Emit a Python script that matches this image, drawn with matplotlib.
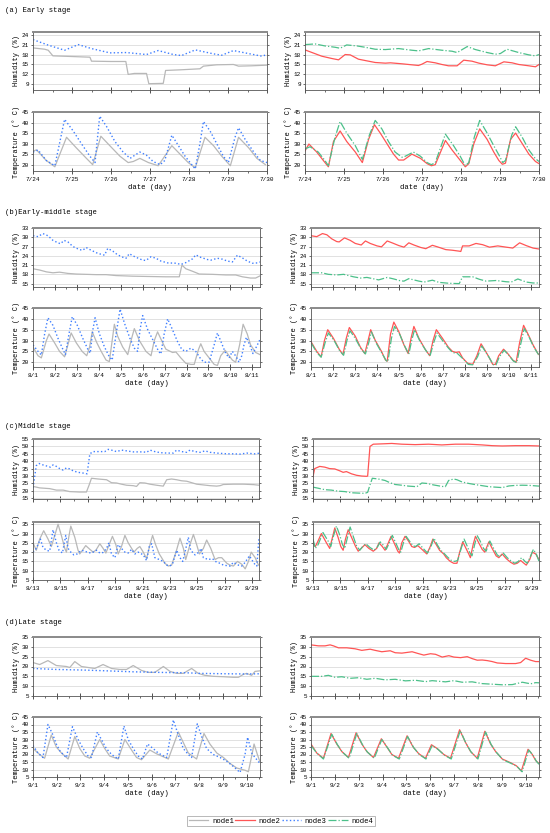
import matplotlib
matplotlib.use('Agg')
import matplotlib.pyplot as plt
from matplotlib.ticker import AutoMinorLocator

plt.rcParams['font.family'] = ['Liberation Mono', 'DejaVu Sans Mono']

# colours / styles per node
c1, c2, c3, c4 = '#b8b8b8', '#ff5555', '#3f7fff', '#4cc08a'

# ---------------- (a) Early stage : 7/24 - 7/30 ----------------
a_days = ['7/24', '7/25', '7/26', '7/27', '7/28', '7/29', '7/30']
a_h1 = [(0, 20), (0.3, 19.6), (0.39, 19.3), (0.51, 17.6), (1.0, 17.4), (1.46, 17.2), (1.50, 16.0),
        (2.0, 15.9), (2.38, 15.9), (2.44, 12.0), (2.6, 12.3), (2.91, 12.3), (2.97, 9.2), (3.34, 9.3),
        (3.40, 13.2), (3.8, 13.4), (4.28, 13.7), (4.37, 14.5), (4.71, 14.9), (5.14, 15.0), (5.27, 14.5),
        (5.6, 14.6), (6.0, 14.8)]
a_h3 = [(0, 22.5), (0.4, 20.8), (0.81, 19.3), (1.16, 21.0), (1.5, 19.8), (1.97, 18.5), (2.40, 18.6),
        (2.91, 18.0), (3.21, 19.2), (3.60, 18.0), (3.81, 17.7), (4.16, 19.4), (4.63, 18.2), (4.84, 17.8),
        (5.14, 19.2), (5.48, 18.4), (5.87, 17.5), (6.0, 18.0)]
a_t3 = [(0, 26), (0.13, 27), (0.34, 22), (0.56, 19.5), (0.81, 41.5), (1.03, 36), (1.24, 30), (1.46, 24),
        (1.59, 21), (1.71, 43), (1.89, 38), (2.10, 31), (2.31, 26), (2.49, 23), (2.57, 24), (2.74, 26),
        (2.91, 24.5), (3.08, 21.5), (3.26, 20), (3.38, 22), (3.56, 34), (3.73, 29), (3.90, 24), (4.07, 20),
        (4.16, 18), (4.28, 30), (4.37, 40.5), (4.54, 36), (4.71, 30), (4.88, 24), (5.01, 21), (5.18, 33),
        (5.27, 37.5), (5.44, 32), (5.66, 26), (5.83, 22), (6.0, 21)]
a_t1 = [(0, 26.5), (0.09, 27), (0.34, 22), (0.56, 19), (0.86, 33), (1.11, 28), (1.37, 23), (1.53, 20),
        (1.74, 33.5), (1.97, 29), (2.23, 24), (2.44, 21), (2.57, 21.5), (2.74, 23), (2.96, 21), (3.21, 19.5),
        (3.56, 29), (3.77, 25), (3.98, 21), (4.16, 18.5), (4.41, 33), (4.63, 29), (4.84, 24), (5.06, 19.5),
        (5.27, 33), (5.53, 28), (5.74, 23), (5.96, 20)]
a_h2 = [(0, 19.4), (0.43, 17.5), (0.69, 16.8), (0.86, 16.4), (1.03, 18.0), (1.16, 17.9), (1.37, 16.6),
        (1.54, 16.2), (1.80, 15.6), (2.06, 15.4), (2.19, 15.5), (2.49, 15.2), (2.74, 14.9), (2.91, 14.7),
        (3.0, 15.1), (3.13, 15.9), (3.34, 15.5), (3.51, 15.0), (3.68, 14.6), (3.90, 14.6), (4.07, 16.3),
        (4.28, 16.0), (4.46, 15.4), (4.67, 14.9), (4.88, 14.6), (5.10, 15.8), (5.31, 15.5), (5.48, 15.0),
        (5.74, 14.6), (5.91, 14.3), (6.0, 15.0)]
a_h4 = [(0, 21), (0.26, 21.2), (0.51, 20.6), (0.77, 20.2), (0.90, 19.9), (1.07, 20.9), (1.33, 20.6),
        (1.54, 20.2), (1.80, 19.6), (2.06, 19.5), (2.40, 19.8), (2.74, 19.3), (2.91, 19.1), (3.17, 19.8),
        (3.51, 19.3), (3.77, 19.0), (3.90, 18.6), (4.16, 20.4), (4.37, 19.5), (4.67, 18.6), (4.88, 18.1),
        (5.01, 18.3), (5.18, 19.6), (5.48, 18.6), (5.74, 17.9), (5.91, 17.6), (6.0, 18.0)]
a_t2 = [(0, 26.5), (0.10, 29.8), (0.30, 26), (0.47, 22), (0.60, 19), (0.73, 31), (0.90, 36), (1.07, 31),
        (1.29, 26), (1.47, 21), (1.63, 32), (1.78, 39), (1.93, 35), (2.10, 30), (2.27, 25), (2.40, 22.2),
        (2.53, 22.2), (2.74, 25), (2.96, 23), (3.13, 20.5), (3.24, 19.5), (3.34, 20), (3.60, 31.5),
        (3.77, 27), (3.94, 23), (4.11, 19), (4.20, 20.5), (4.33, 30), (4.48, 37), (4.67, 32), (4.84, 26),
        (4.97, 22), (5.06, 20.2), (5.14, 20.7), (5.27, 32), (5.40, 35), (5.57, 30), (5.74, 25), (5.91, 21.5),
        (6.0, 20.5)]
a_t4 = [(0, 27.5), (0.13, 28.5), (0.34, 26), (0.51, 22), (0.60, 19.5), (0.77, 33), (0.90, 40.5), (1.07, 35),
        (1.29, 29), (1.47, 22.5), (1.65, 34), (1.80, 41), (1.97, 37), (2.14, 31), (2.31, 26), (2.49, 23.5),
        (2.57, 24), (2.78, 26), (2.96, 24), (3.13, 21), (3.24, 20), (3.34, 21), (3.60, 34.5), (3.81, 29),
        (3.98, 24), (4.11, 19.5), (4.20, 21), (4.34, 33), (4.48, 41), (4.67, 35), (4.84, 29), (4.99, 24),
        (5.07, 21), (5.14, 22), (5.30, 34), (5.40, 38), (5.57, 33), (5.74, 27), (5.90, 23), (6.0, 21.5)]

# ---------------- (b) Early-middle stage : 8/1 - 8/11 ----------------
b_days = ['8/1', '8/2', '8/3', '8/4', '8/5', '8/6', '8/7', '8/8', '8/9', '8/10', '8/11']
b_h3 = [(0, 30.5), (0.23, 30.2), (0.45, 31.2), (0.68, 30.5), (0.91, 29.0), (1.14, 28.2), (1.26, 27.9),
        (1.41, 29.0), (1.59, 28.5), (1.82, 27.0), (2.12, 26.0), (2.27, 25.8), (2.42, 26.7), (2.65, 25.8),
        (2.95, 24.8), (3.26, 24.2), (3.41, 26.4), (3.64, 25.5), (3.86, 24.3), (4.17, 23.3), (4.24, 23.2),
        (4.39, 24.7), (4.55, 24.0), (4.77, 23.3), (5.0, 22.6), (5.15, 22.5), (5.38, 23.7), (5.61, 23.2),
        (5.83, 22.3), (6.14, 21.7), (6.52, 21.6), (6.74, 21.2), (6.97, 21.8), (7.27, 23.0), (7.42, 24.3),
        (7.65, 23.5), (7.95, 22.8), (8.11, 22.6), (8.41, 23.2), (8.64, 22.9), (8.86, 22.3), (9.09, 22.0),
        (9.32, 24.2), (9.55, 23.3), (9.77, 22.3), (10.0, 21.6), (10.23, 21.7), (10.35, 22.0)]
b_h1 = [(0, 19.8), (0.30, 19.4), (0.61, 18.8), (0.91, 18.5), (1.21, 18.7), (1.59, 18.3), (1.97, 18.1),
        (2.42, 18.0), (2.88, 17.9), (3.33, 17.9), (3.79, 17.6), (4.55, 17.4), (5.30, 17.3), (6.06, 17.2),
        (6.67, 17.2), (6.79, 21.0), (6.97, 19.8), (7.27, 19.0), (7.58, 18.1), (8.18, 18.0), (8.79, 17.8),
        (9.24, 17.8), (9.55, 17.2), (9.92, 16.8), (10.15, 16.8), (10.35, 17.5)]
b_t3 = [(0, 28), (0.23, 25), (0.38, 23.3), (0.53, 33), (0.68, 40.5), (0.91, 37), (1.14, 31), (1.36, 26),
        (1.48, 23.5), (1.64, 33), (1.79, 41), (2.02, 37), (2.27, 31), (2.50, 26), (2.61, 24.2), (2.73, 35),
        (2.83, 40.5), (3.03, 33), (3.26, 27), (3.48, 22.5), (3.61, 21), (3.82, 35), (3.97, 44.5), (4.17, 38),
        (4.42, 31), (4.62, 26.5), (4.77, 25), (4.88, 35), (5.0, 41.5), (5.23, 35), (5.53, 29), (5.73, 25),
        (5.83, 23.8), (5.98, 33), (6.14, 40), (6.36, 35), (6.59, 29.5), (6.79, 25.8), (6.97, 25),
        (7.20, 26.5), (7.42, 25), (7.65, 21.5), (7.80, 20), (8.03, 20), (8.26, 28), (8.41, 33.5),
        (8.61, 28.5), (8.79, 24), (8.94, 22), (9.09, 25), (9.27, 22.5), (9.39, 20), (9.52, 23), (9.62, 28),
        (9.73, 31.5), (9.92, 27), (10.03, 24), (10.23, 28), (10.35, 30.5)]
b_t1 = [(0, 27), (0.23, 23), (0.38, 22), (0.61, 30), (0.73, 33), (0.98, 29), (1.21, 25), (1.44, 22.5),
        (1.59, 28), (1.74, 33.5), (1.97, 29), (2.24, 25), (2.45, 23), (2.58, 27), (2.70, 34), (2.91, 29),
        (3.11, 25), (3.33, 21), (3.48, 20.3), (3.61, 30), (3.71, 37.5), (3.86, 32), (4.09, 27), (4.32, 23.5),
        (4.47, 30), (4.62, 35.5), (4.85, 30), (5.15, 25), (5.38, 23), (5.53, 30), (5.68, 34), (5.91, 29),
        (6.06, 26), (6.36, 24.5), (6.52, 24.7), (6.74, 22), (6.97, 19.5), (7.20, 19), (7.35, 19), (7.55, 26),
        (7.65, 28.5), (7.80, 25), (8.03, 22), (8.26, 19), (8.41, 18.5), (8.56, 23), (8.76, 25.5), (8.94, 23),
        (9.09, 21), (9.24, 20), (9.42, 28), (9.58, 37.5), (9.77, 33), (9.92, 28), (10.15, 24.5), (10.35, 23.5)]
b_h2 = [(0, 30.5), (0.26, 30.2), (0.52, 31.2), (0.72, 30.8), (0.94, 29.5), (1.17, 28.6), (1.28, 28.5),
        (1.52, 29.8), (1.78, 29.0), (2.01, 28.0), (2.28, 27.5), (2.47, 28.8), (2.69, 28.0), (3.0, 27.2),
        (3.20, 26.9), (3.46, 28.8), (3.68, 28.2), (3.99, 27.3), (4.22, 26.8), (4.44, 28.2), (4.67, 27.5),
        (4.98, 26.7), (5.21, 26.3), (5.51, 27.4), (5.74, 26.9), (6.12, 26.0), (6.42, 25.8), (6.73, 25.5),
        (6.80, 25.4), (6.88, 27.2), (7.18, 27.2), (7.49, 28.0), (7.79, 27.6), (8.10, 26.8), (8.48, 27.2),
        (8.86, 26.8), (9.16, 26.5), (9.47, 28.2), (9.77, 27.3), (10.08, 26.5), (10.35, 26.2)]
b_h4 = [(0, 18.5), (0.49, 18.5), (0.79, 18.0), (1.17, 17.8), (1.48, 18.0), (1.93, 17.2), (2.24, 16.8),
        (2.54, 17.0), (3.07, 16.2), (3.46, 17.0), (3.76, 16.5), (4.06, 15.9), (4.22, 15.8), (4.44, 16.6),
        (4.90, 15.8), (5.13, 15.5), (5.51, 16.1), (5.81, 15.4), (6.27, 15.1), (6.73, 15.0), (6.88, 17.2),
        (7.34, 17.2), (7.64, 16.4), (7.95, 15.8), (8.40, 16.0), (8.86, 15.6), (9.09, 15.5), (9.39, 16.5),
        (9.77, 15.5), (10.08, 15.2), (10.35, 15.2)]
b_t2 = [(0, 29.5), (0.26, 25), (0.46, 22.5), (0.61, 30), (0.76, 35), (1.02, 31), (1.28, 26), (1.45, 23.5),
        (1.60, 31), (1.74, 36), (2.01, 32), (2.24, 27), (2.44, 24), (2.59, 30), (2.71, 35), (2.92, 30),
        (3.20, 25), (3.38, 21), (3.46, 20.5), (3.61, 33), (3.76, 38.5), (3.99, 34), (4.22, 28), (4.41, 24),
        (4.54, 31), (4.67, 36.5), (4.90, 31), (5.18, 26), (5.39, 23), (5.54, 30), (5.69, 35), (5.97, 31),
        (6.23, 27), (6.42, 25), (6.58, 24.5), (6.73, 24.8), (6.88, 22), (7.11, 19.5), (7.34, 19), (7.53, 23),
        (7.72, 28.5), (7.87, 26), (8.07, 22.5), (8.25, 19), (8.37, 19), (8.52, 23), (8.74, 26), (8.93, 24),
        (9.16, 21), (9.31, 20), (9.47, 29), (9.65, 37), (9.85, 33), (10.08, 28), (10.30, 24), (10.35, 23.5)]
b_t4 = [(0, 29), (0.26, 24.5), (0.46, 22.3), (0.64, 29), (0.79, 33.5), (1.05, 30), (1.29, 25.5), (1.48, 23.2),
        (1.63, 30), (1.77, 34.5), (2.01, 31), (2.25, 26.5), (2.47, 23.8), (2.62, 29), (2.74, 34), (2.95, 29),
        (3.20, 24.5), (3.41, 20.8), (3.49, 20.2), (3.65, 31), (3.79, 36.5), (4.02, 33), (4.25, 27.5),
        (4.44, 23.7), (4.57, 30), (4.70, 35), (4.93, 30), (5.21, 25.5), (5.40, 22.8), (5.57, 29), (5.72, 33.5),
        (5.97, 30), (6.24, 26.5), (6.42, 24.5), (6.65, 24), (6.91, 21.5), (7.14, 19), (7.34, 18.8),
        (7.56, 22.5), (7.75, 27.5), (7.91, 25), (8.10, 22), (8.28, 18.8), (8.40, 18.8), (8.55, 22.5),
        (8.77, 25.5), (8.96, 23.5), (9.19, 20.5), (9.34, 19.8), (9.51, 28), (9.68, 35.5), (9.88, 32),
        (10.11, 27), (10.33, 23.5)]

# ---------------- (c) Middle stage : 8/13 - 8/29 ----------------
c_days = ['8/13', '8/15', '8/17', '8/19', '8/21', '8/23', '8/25', '8/27', '8/29']
c_h3 = [(0, 22), (0.24, 37), (0.44, 38.5), (0.73, 37.5), (1.10, 36.5), (1.27, 36.0), (1.46, 37.5),
        (1.71, 36.5), (1.95, 35.0), (2.20, 34.0), (2.44, 35.5), (2.68, 34.8), (2.93, 33.5), (3.29, 32.5),
        (3.66, 32.0), (3.95, 31.5), (4.15, 45.0), (4.39, 46.5), (4.88, 46.5), (5.24, 46.5), (5.49, 48.0),
        (5.73, 47.5), (6.10, 46.5), (6.46, 47.5), (6.83, 47.0), (7.32, 46.3), (8.05, 46.3), (8.29, 46.0),
        (8.54, 47.5), (8.90, 46.5), (9.27, 45.8), (9.76, 45.5), (10.24, 45.5), (10.49, 47.5), (10.85, 46.5),
        (11.22, 46.0), (11.46, 47.5), (11.83, 46.5), (12.20, 46.0), (12.56, 47.0), (12.93, 46.0),
        (13.41, 45.5), (14.15, 45.0), (14.63, 45.0), (15.12, 44.8), (15.61, 45.5), (16.10, 45.0),
        (16.34, 45.0), (16.5, 45.5)]
c_h1 = [(0, 23), (0.49, 22), (1.22, 21.5), (1.71, 20.5), (2.20, 20.5), (2.68, 19.5), (3.41, 19.2),
        (3.90, 19.2), (4.10, 24.0), (4.27, 28.5), (4.76, 28.0), (5.37, 27.5), (5.73, 25.5), (6.10, 25.3),
        (6.46, 24.5), (6.83, 23.8), (7.32, 23.5), (7.56, 23.0), (7.80, 25.5), (8.17, 25.3), (8.54, 24.5),
        (9.02, 23.8), (9.51, 23.2), (9.76, 27.5), (10.12, 28.0), (10.49, 27.5), (10.85, 26.8), (11.22, 26.5),
        (11.59, 25.5), (11.95, 24.5), (12.44, 24.0), (12.93, 23.5), (13.41, 23.2), (13.66, 23.5),
        (13.90, 24.3), (14.63, 24.5), (15.37, 24.5), (16.10, 24.2), (16.5, 23.8)]
c_t1 = [(0, 25), (0.24, 21), (0.49, 27), (0.78, 31.5), (1.10, 27), (1.34, 23), (1.59, 29), (1.83, 35),
        (2.07, 29), (2.32, 22), (2.44, 20), (2.61, 28), (2.76, 34), (3.05, 28), (3.29, 21), (3.41, 19),
        (3.61, 21), (3.85, 23.5), (4.15, 21.5), (4.39, 20), (4.59, 21), (4.88, 24.5), (5.12, 22), (5.32, 19.5),
        (5.56, 24), (5.80, 28.5), (6.05, 24), (6.22, 19), (6.46, 23), (6.71, 29), (6.95, 25), (7.20, 22),
        (7.37, 20), (7.61, 22), (7.80, 23), (8.05, 20), (8.29, 16.5), (8.54, 24), (8.73, 29), (8.95, 24),
        (9.22, 19), (9.39, 17), (9.63, 14), (9.88, 12.5), (10.12, 13), (10.44, 20), (10.73, 27.5), (10.98, 22),
        (11.15, 16), (11.46, 24), (11.71, 29.5), (11.95, 24), (12.15, 19), (12.44, 22), (12.68, 26.5),
        (12.98, 22), (13.29, 16), (13.54, 17), (13.78, 17), (14.15, 14), (14.39, 13), (14.63, 12.5),
        (14.93, 15), (15.24, 13.5), (15.49, 11), (15.73, 15), (15.93, 20), (16.22, 17), (16.46, 13), (16.5, 13)]
c_t3 = [(0, 20), (0.24, 22), (0.54, 27), (0.73, 22.5), (0.98, 21), (1.22, 20.5), (1.46, 32), (1.71, 25),
        (1.90, 21), (2.15, 19.5), (2.39, 29), (2.56, 22), (2.76, 20), (2.98, 18.5), (3.22, 19), (3.54, 21),
        (3.78, 20.5), (4.02, 19.8), (4.27, 19.5), (4.63, 21), (4.88, 19.5), (5.12, 19.8), (5.37, 22),
        (5.54, 25), (5.73, 19), (5.98, 17), (6.22, 24), (6.46, 22), (6.71, 20), (6.95, 19.5), (7.20, 21.5),
        (7.44, 19), (7.68, 20), (7.93, 19), (8.05, 18.5), (8.29, 15.5), (8.49, 23), (8.66, 24.5), (8.90, 17),
        (9.22, 16), (9.51, 15), (9.76, 13), (10.0, 12.5), (10.20, 14), (10.49, 21), (10.73, 17), (10.93, 15),
        (11.10, 20), (11.34, 28), (11.51, 21), (11.83, 18.5), (12.12, 20), (12.27, 22), (12.44, 17),
        (12.80, 16), (13.10, 16.5), (13.41, 14.5), (13.66, 14), (13.90, 13), (14.39, 12.5), (14.63, 14.5),
        (15.0, 13), (15.24, 12.5), (15.49, 14.5), (15.80, 18), (16.05, 15), (16.24, 13), (16.34, 12.5),
        (16.49, 27)]
c_h2 = [(0, 29.5), (0.12, 35.0), (0.49, 36.5), (0.86, 36.0), (1.22, 35.0), (1.59, 34.8), (1.96, 33.5),
        (2.20, 32.5), (2.44, 33.0), (2.81, 31.5), (3.18, 30.5), (3.55, 30.0), (3.91, 29.8), (3.99, 30.0),
        (4.16, 50.0), (4.40, 51.5), (5.26, 51.8), (5.75, 52.0), (6.48, 51.5), (7.46, 51.2), (8.44, 51.5),
        (9.41, 51.0), (10.39, 51.5), (11.37, 51.5), (12.35, 51.0), (13.08, 50.5), (13.81, 50.3),
        (14.79, 50.5), (15.77, 50.5), (16.5, 50.3)]
c_h4 = [(0, 22.5), (0.37, 21.8), (0.86, 20.8), (1.34, 20.5), (1.83, 19.8), (2.32, 19.5), (2.81, 18.7),
        (3.30, 18.5), (3.79, 18.3), (3.99, 19.0), (4.16, 24.0), (4.33, 28.5), (4.77, 28.0), (5.26, 27.0),
        (5.62, 25.5), (5.99, 24.3), (6.48, 23.8), (6.97, 23.2), (7.58, 22.8), (7.95, 25.3), (8.31, 25.0),
        (8.80, 24.0), (9.41, 23.0), (9.66, 22.8), (9.90, 27.0), (10.27, 28.0), (10.51, 27.5), (10.88, 26.0),
        (11.37, 25.0), (11.86, 24.2), (12.35, 23.5), (12.84, 22.8), (13.33, 22.5), (13.81, 22.2),
        (14.30, 23.3), (14.79, 23.7), (15.28, 23.8), (15.77, 23.7), (16.5, 23.2)]
c_t2 = [(0, 25), (0.17, 23), (0.37, 26), (0.61, 30), (0.98, 25), (1.22, 22), (1.39, 27), (1.59, 33),
        (1.83, 28), (2.03, 23), (2.20, 21), (2.37, 27), (2.57, 32), (2.81, 28), (3.11, 23), (3.30, 20.5),
        (3.59, 22.5), (3.79, 24), (4.08, 22), (4.40, 20.5), (4.65, 22), (4.82, 25), (5.06, 23), (5.26, 21),
        (5.50, 25), (5.70, 28.5), (5.92, 25), (6.19, 20.5), (6.31, 19.5), (6.48, 25), (6.72, 28.5), (6.97, 26),
        (7.21, 23), (7.41, 22.5), (7.65, 23.5), (7.95, 21.5), (8.31, 19), (8.56, 23), (8.75, 27), (9.0, 24),
        (9.24, 21), (9.54, 19), (9.73, 17), (10.02, 15), (10.27, 14), (10.51, 14), (10.71, 20), (10.93, 25.5),
        (11.17, 22), (11.37, 19), (11.49, 17), (11.69, 24), (11.86, 28.5), (12.10, 25), (12.35, 21.5),
        (12.54, 20), (12.84, 25.5), (13.08, 22), (13.37, 18), (13.57, 17), (13.81, 19), (14.11, 16.5),
        (14.43, 14.5), (14.67, 13.5), (14.91, 14), (15.16, 15.5), (15.40, 14), (15.57, 13), (15.82, 16),
        (16.01, 20), (16.26, 19), (16.5, 16)]
c_t4 = [(0, 27), (0.17, 22), (0.37, 24), (0.73, 30.5), (1.10, 26), (1.30, 23), (1.47, 28), (1.71, 34),
        (1.96, 29), (2.15, 24), (2.32, 22), (2.52, 28), (2.71, 33.5), (2.96, 28), (3.20, 23), (3.42, 21),
        (3.62, 23), (3.86, 24.5), (4.16, 22.5), (4.47, 21), (4.72, 23), (4.91, 25.5), (5.16, 23.5),
        (5.35, 21.5), (5.57, 25), (5.79, 29), (6.04, 25), (6.28, 21), (6.41, 20), (6.60, 25), (6.80, 28.5),
        (7.04, 26), (7.29, 23.5), (7.48, 23), (7.75, 24.5), (8.04, 22), (8.36, 19.5), (8.61, 23), (8.83, 27.5),
        (9.07, 24), (9.32, 21), (9.61, 19), (9.80, 17.5), (10.10, 15.5), (10.34, 15), (10.56, 15.5),
        (10.78, 21), (11.03, 27), (11.27, 23), (11.46, 19.5), (11.61, 18), (11.80, 24), (11.98, 29),
        (12.20, 26), (12.45, 22), (12.64, 20.5), (12.91, 26), (13.15, 22.5), (13.45, 18.5), (13.64, 17.5),
        (13.89, 19.5), (14.18, 17), (14.50, 15), (14.74, 14), (14.99, 15), (15.23, 17), (15.48, 15),
        (15.65, 14), (15.89, 18), (16.09, 21.5), (16.33, 18.5), (16.5, 15)]

# ---------------- (d) Late stage : 9/1 - 9/10 ----------------
d_days = ['9/1', '9/2', '9/3', '9/4', '9/5', '9/6', '9/7', '9/8', '9/9', '9/10']
d_h1 = [(0, 22), (0.28, 21), (0.63, 23), (0.98, 20.5), (1.41, 20), (1.55, 19.5), (1.76, 22.5), (2.04, 20),
        (2.32, 19.5), (2.60, 19), (2.95, 21), (3.31, 19), (3.66, 18.5), (3.94, 18.5), (4.22, 20.5), (4.57, 18),
        (4.85, 17), (5.13, 17), (5.49, 20), (5.77, 17.5), (6.05, 16.5), (6.33, 16.5), (6.68, 19), (6.96, 16.5),
        (7.24, 15.5), (7.59, 15), (8.02, 14.8), (8.44, 14.5), (8.65, 14.5), (8.86, 16), (9.0, 16.5),
        (9.21, 15.5), (9.35, 17.5), (9.56, 17.8)]
d_h3 = [(0, 19), (0.98, 18.5), (2.11, 18.2), (3.09, 17.8), (4.22, 17.3), (5.34, 17.0), (6.47, 16.8),
        (7.03, 16.5), (8.16, 16.3), (9.0, 16.2), (9.56, 16.3)]
d_t3 = [(0, 26), (0.21, 21), (0.42, 18), (0.63, 40), (0.84, 33), (0.98, 27), (1.13, 22.5), (1.27, 20),
        (1.41, 18), (1.66, 38.5), (1.90, 30), (2.11, 24), (2.32, 19), (2.46, 18), (2.71, 35), (2.88, 30),
        (3.09, 24), (3.31, 20), (3.59, 17), (3.83, 39), (4.01, 30), (4.22, 24), (4.43, 19), (4.61, 17),
        (4.82, 27), (5.06, 24), (5.27, 21), (5.63, 18), (5.91, 43), (6.12, 33), (6.33, 24), (6.54, 20),
        (6.68, 18), (6.92, 40.5), (7.10, 32), (7.31, 24), (7.59, 20), (7.88, 18), (8.16, 15.5), (8.44, 12),
        (8.72, 8), (8.93, 20), (9.04, 31.5), (9.21, 21), (9.35, 18), (9.56, 14)]
d_t1 = [(0, 24), (0.28, 20), (0.49, 17.5), (0.77, 33), (0.98, 25), (1.20, 21), (1.48, 17), (1.76, 32),
        (1.97, 24), (2.18, 19), (2.39, 17.5), (2.81, 30), (3.02, 24), (3.23, 19), (3.59, 17), (3.87, 30),
        (4.15, 23), (4.36, 18), (4.57, 16.5), (4.92, 23), (5.20, 20.5), (5.70, 17), (6.12, 35), (6.33, 28),
        (6.54, 21), (6.89, 17), (7.20, 34), (7.45, 27), (7.74, 21), (8.02, 18), (8.30, 14), (8.58, 11),
        (8.93, 9.5), (9.07, 8.5), (9.21, 19), (9.31, 27), (9.45, 20), (9.56, 15)]
d_h2 = [(0, 31), (0.31, 30.5), (0.59, 30.5), (0.80, 31), (0.94, 30.5), (1.15, 29.5), (1.50, 29.5),
        (1.85, 29), (2.13, 28.2), (2.48, 28.8), (2.69, 28.2), (2.97, 27.5), (3.32, 28), (3.53, 27),
        (3.81, 26.8), (4.24, 27.5), (4.52, 26.5), (4.73, 25.8), (5.01, 26.5), (5.22, 26.2), (5.50, 24.8),
        (5.78, 25.5), (5.99, 24.8), (6.27, 24.5), (6.55, 25), (6.76, 24), (6.97, 23.2), (7.18, 23.3),
        (7.39, 23), (7.60, 22.5), (7.81, 21.8), (8.16, 21.5), (8.58, 21.5), (8.79, 22), (9.0, 24.2),
        (9.21, 23.2), (9.42, 22.5), (9.56, 22.5)]
d_h4 = [(0, 15), (0.45, 15), (0.73, 15.5), (1.01, 14.5), (1.29, 14.8), (1.64, 14), (1.99, 14.3), (2.34, 13.5),
        (2.69, 14), (3.11, 13.2), (3.53, 13.5), (3.96, 12.7), (4.38, 13), (4.80, 12.3), (5.08, 12.8),
        (5.64, 12.2), (5.99, 12.8), (6.34, 12), (6.76, 12.2), (7.18, 11.3), (7.60, 11), (8.02, 10.7),
        (8.44, 10.8), (8.86, 12), (9.21, 11.2), (9.42, 11.8), (9.56, 11.7)]
d_t2 = [(0, 27), (0.24, 21), (0.52, 17.5), (0.84, 34), (1.08, 27), (1.29, 22), (1.57, 18), (1.89, 34.5),
        (2.13, 27), (2.34, 22), (2.62, 18), (2.95, 30.5), (3.18, 25), (3.39, 20), (3.67, 17.5), (4.03, 32.5),
        (4.28, 25), (4.52, 20.5), (4.80, 17.5), (5.05, 26.5), (5.29, 24), (5.57, 20), (5.85, 17.5),
        (6.23, 36.5), (6.48, 28), (6.69, 22), (6.97, 17.5), (7.29, 35.5), (7.53, 27), (7.74, 22), (8.02, 17),
        (8.37, 14.5), (8.61, 12.5), (8.82, 9), (9.10, 23.5), (9.28, 20), (9.42, 16), (9.56, 14)]
d_t4 = [(0, 26), (0.24, 21), (0.52, 17), (0.87, 33.5), (1.11, 26.5), (1.32, 21.5), (1.60, 17.5), (1.92, 34),
        (2.16, 26.5), (2.37, 21.5), (2.65, 17.5), (2.97, 30), (3.21, 24.5), (3.42, 19.5), (3.70, 17),
        (4.05, 32), (4.31, 24.5), (4.54, 20), (4.82, 17), (5.08, 26), (5.32, 23.5), (5.60, 19.5), (5.88, 17),
        (6.26, 36), (6.51, 27), (6.72, 21.5), (7.0, 17), (7.32, 35), (7.56, 26.5), (7.77, 21.5), (8.05, 16.5),
        (8.40, 14), (8.64, 12), (8.85, 8.5), (9.13, 23), (9.31, 19.5), (9.45, 15.5), (9.56, 13.5)]

W, H = 550, 833
fig = plt.figure(figsize=(W / 100, H / 100), dpi=100)

TICK = 4.3
style = {1: dict(color=c1, ls='-', lw=0.9), 2: dict(color=c2, ls='-', lw=0.9),
         3: dict(color=c3, ls=':', lw=1.0), 4: dict(color=c4, ls='-.', lw=0.9)}


def box(x0, x1, y0, y1):
    # pixel box -> figure fraction
    return [x0 / W, 1 - y1 / H, (x1 - x0) / W, (y1 - y0) / H]


def setup(ax, xmax, xstep, labels, ylim, yticks, ylabel, show_x):
    ax.set_xlim(0, xmax)
    ax.set_ylim(*ylim)
    ax.set_xticks([i * xstep for i in range(len(labels))])
    ax.xaxis.set_minor_locator(AutoMinorLocator(2))
    ax.set_yticks(yticks)
    ax.grid(axis='y', color='#dcdcdc', lw=0.6)
    ax.set_axisbelow(True)
    ax.tick_params(axis='x', which='major', direction='inout', length=4, width=0.6, color='#333333',
                   labelsize=TICK, pad=2.5)
    ax.tick_params(axis='x', which='minor', direction='out', length=1.5, width=0.5, color='#333333')
    ax.tick_params(axis='y', direction='out', length=1.5, width=0.5, labelsize=TICK, pad=1.5,
                   right=True, color='#333333')
    ax.set_ylabel(ylabel, fontsize=5.0, labelpad=1.5)
    for s in ax.spines.values():
        s.set_color('#555555')
        s.set_linewidth(0.6)
    ax.spines['top'].set_color('#8a8a8a')
    ax.spines['top'].set_linewidth(1.4)
    if show_x:
        ax.set_xticklabels(labels)
        ax.set_xlabel('date (day)', fontsize=5.2, labelpad=1.5)
    else:
        ax.set_xticklabels([])


def draw(ax, series):
    for node, pts in series:
        xs, ys = zip(*pts)
        ax.plot(xs, ys, label='node%d' % node, **style[node])


stages = [
    dict(title='(a) Early stage', ty=10, xl=(33, 267), xr=(305, 539), hy=(32, 90), tyy=(112, 171),
         xmax=6, xstep=1, labels=a_days, hlim=(7.3, 24.8), hticks=range(9, 25, 3),
         tlim=(17, 45), tticks=range(20, 46, 5),
         lh=[(1, a_h1), (3, a_h3)], lt=[(1, a_t1), (3, a_t3)],
         rh=[(2, a_h2), (4, a_h4)], rt=[(2, a_t2), (4, a_t4)]),
    dict(title='(b)Early-middle stage', ty=212, xl=(33, 260), xr=(311, 539), hy=(228, 287), tyy=(308, 367),
         xmax=10.35, xstep=1, labels=b_days, hlim=(13.9, 33), hticks=range(15, 34, 3),
         tlim=(17.8, 45), tticks=range(20, 46, 5),
         lh=[(1, b_h1), (3, b_h3)], lt=[(1, b_t1), (3, b_t3)],
         rh=[(2, b_h2), (4, b_h4)], rt=[(2, b_t2), (4, b_t4)]),
    dict(title='(c)Middle stage', ty=427, xl=(33, 259), xr=(313, 539), hy=(439, 499), tyy=(522, 580),
         xmax=16.5, xstep=2, labels=c_days, hlim=(14.5, 55), hticks=range(15, 56, 5),
         tlim=(5, 36.2), tticks=range(5, 36, 5),
         lh=[(1, c_h1), (3, c_h3)], lt=[(1, c_t1), (3, c_t3)],
         rh=[(2, c_h2), (4, c_h4)], rt=[(2, c_t2), (4, c_t4)]),
    dict(title='(d)Late stage', ty=623, xl=(33, 260), xr=(311, 539), hy=(637, 696), tyy=(717, 777),
         xmax=9.56, xstep=1, labels=d_days, hlim=(5, 35), hticks=range(5, 36, 5),
         tlim=(5, 45), tticks=range(5, 46, 5),
         lh=[(1, d_h1), (3, d_h3)], lt=[(1, d_t1), (3, d_t3)],
         rh=[(2, d_h2), (4, d_h4)], rt=[(2, d_t2), (4, d_t4)]),
]

handles = {}
for st in stages:
    fig.text(5 / W, 1 - st['ty'] / H, st['title'], fontsize=5.2, va='center', ha='left')
    for xs, hk, tk in [(st['xl'], 'lh', 'lt'), (st['xr'], 'rh', 'rt')]:
        axh = fig.add_axes(box(xs[0], xs[1], *st['hy']))
        draw(axh, st[hk])
        setup(axh, st['xmax'], st['xstep'], st['labels'], st['hlim'], st['hticks'], 'Humidity (%)', False)
        axt = fig.add_axes(box(xs[0], xs[1], *st['tyy']))
        draw(axt, st[tk])
        setup(axt, st['xmax'], st['xstep'], st['labels'], st['tlim'], st['tticks'],
              'Temperature (\u00b0 C)', True)
        for ln in axt.get_lines():
            handles[ln.get_label()] = ln

order = ['node1', 'node2', 'node3', 'node4']
leg = fig.legend([handles[k] for k in order], order, loc='center', ncol=4,
                 bbox_to_anchor=(281 / W, 1 - 821 / H), fontsize=5.2, frameon=True,
                 fancybox=False, edgecolor='#999999', handlelength=2.7, handletextpad=0.5,
                 columnspacing=0.2, borderpad=0.25, borderaxespad=0)
leg.get_frame().set_linewidth(0.6)

fig.savefig('out.png', dpi=100)
